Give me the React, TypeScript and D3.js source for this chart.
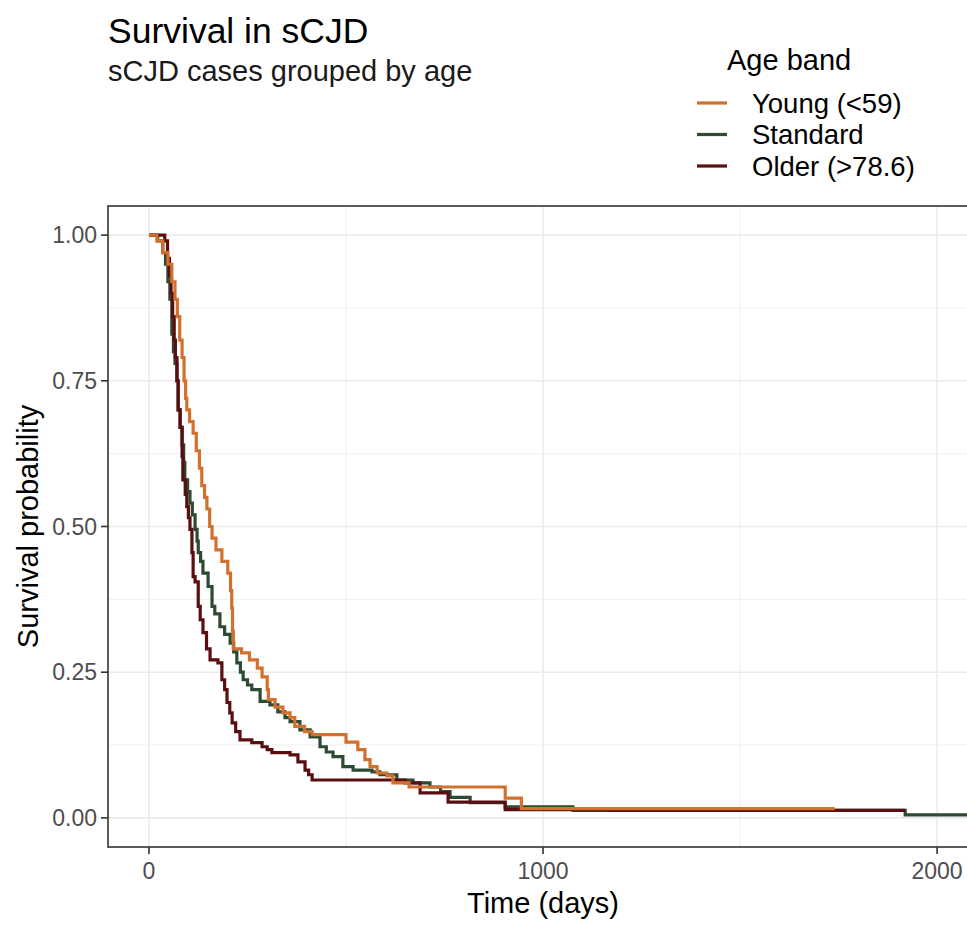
import * as d3 from "d3";

// Kaplan-Meier steps: [time in days, survival]
const young: [number, number][] = [
  [0, 1], [20, 0.99], [35, 0.97], [48, 0.95], [58, 0.92], [66, 0.89], [72, 0.86],
  [78, 0.82], [84, 0.79], [89, 0.75], [93, 0.72], [96, 0.7], [103, 0.68], [112, 0.66],
  [120, 0.63], [128, 0.6], [134, 0.57], [141, 0.55], [147, 0.53], [154, 0.5],
  [160, 0.48], [170, 0.46], [185, 0.44], [200, 0.42], [207, 0.39], [210, 0.36],
  [212, 0.32], [214, 0.29], [235, 0.283], [255, 0.271], [275, 0.257], [287, 0.242],
  [300, 0.22], [303, 0.203], [320, 0.19], [340, 0.18], [358, 0.172], [370, 0.157],
  [395, 0.148], [414, 0.143], [500, 0.13], [530, 0.117], [548, 0.1], [561, 0.088],
  [579, 0.077], [604, 0.072], [619, 0.06], [660, 0.053], [904, 0.034], [945, 0.016],
  [1740, 0.016],
];

const standard: [number, number][] = [
  [0, 1], [22, 0.99], [35, 0.97], [42, 0.95], [48, 0.92], [53, 0.89], [58, 0.83],
  [62, 0.8], [66, 0.78], [71, 0.75], [74, 0.7], [79, 0.67], [84, 0.64], [88, 0.61],
  [91, 0.58], [98, 0.56], [104, 0.54], [110, 0.52], [117, 0.495], [122, 0.475],
  [125, 0.455], [131, 0.44], [137, 0.42], [150, 0.397], [160, 0.363], [167, 0.35],
  [180, 0.328], [192, 0.315], [206, 0.3], [215, 0.285], [223, 0.266], [232, 0.25],
  [239, 0.237], [250, 0.228], [261, 0.22], [282, 0.2], [307, 0.194], [327, 0.182],
  [345, 0.172], [358, 0.165], [383, 0.151], [409, 0.139], [434, 0.122], [450, 0.113],
  [467, 0.105], [492, 0.088], [518, 0.082], [566, 0.079], [586, 0.074], [629, 0.065],
  [670, 0.06], [713, 0.053], [740, 0.045], [764, 0.035], [815, 0.026], [904, 0.019],
  [1076, 0.013], [1919, 0.005], [2100, 0.005],
];

const older: [number, number][] = [
  [0, 1], [40, 0.99], [47, 0.96], [52, 0.93], [56, 0.9], [60, 0.86], [64, 0.82],
  [67, 0.79], [71, 0.75], [74, 0.7], [79, 0.67], [84, 0.62], [86, 0.58], [92, 0.555],
  [96, 0.534], [100, 0.515], [104, 0.495], [109, 0.455], [112, 0.414], [117, 0.405],
  [125, 0.363], [130, 0.34], [137, 0.318], [146, 0.29], [155, 0.271], [175, 0.266],
  [185, 0.237], [192, 0.22], [198, 0.198], [205, 0.18], [211, 0.163], [220, 0.148],
  [231, 0.134], [261, 0.129], [287, 0.122], [300, 0.117], [312, 0.112], [358, 0.108],
  [378, 0.096], [396, 0.082], [405, 0.074], [414, 0.065], [650, 0.06], [688, 0.043],
  [759, 0.027], [904, 0.014], [1170, 0.013], [1919, 0.013],
];

const groups = ["Young (<59)", "Standard", "Older (>78.6)"];
const colors = ["#D2702E", "#2D4A32", "#5A0E10"];
const series = [young, standard, older];
const drawOrder = [1, 2, 0];

const xTicks = [0, 1000, 2000];
const xMinor = [500, 1500];
const yTicks = [0, 0.25, 0.5, 0.75, 1];
const yMinor = [0.125, 0.375, 0.625, 0.875];

const W = 967;
const H = 926;
const font = "'Liberation Sans', Arial, sans-serif";
const panel = { left: 108, top: 206, right: 1010, bottom: 847 };

export default function App() {
  const x = d3.scaleLinear().domain([-104, 2185]).range([panel.left, panel.right]);
  const y = d3.scaleLinear().domain([-0.05, 1.05]).range([panel.bottom, panel.top]);

  const line = d3
    .line<[number, number]>()
    .x((d) => x(d[0]))
    .y((d) => y(d[1]))
    .curve(d3.curveStepAfter);

  return (
    <svg
      width={W}
      height={H}
      viewBox={`0 0 ${W} ${H}`}
      style={{ position: "absolute", left: 0, top: 0, background: "#fff" }}
      fontFamily={font}
    >
      <defs>
        <clipPath id="panel">
          <rect x={panel.left} y={panel.top} width={panel.right - panel.left} height={panel.bottom - panel.top} />
        </clipPath>
      </defs>

      {/* Titles */}
      <text x={108} y={43} fontSize={35.5} fill="#000">Survival in sCJD</text>
      <text x={108} y={81} fontSize={29} fill="#1a1a1a">sCJD cases grouped by age</text>

      {/* Legend */}
      <text x={727} y={70} fontSize={29} fill="#000">Age band</text>
      {groups.map((g, i) => (
        <g key={g} transform={`translate(0, ${103 + i * 31.5})`}>
          <line x1={697} x2={727} y1={0} y2={0} stroke={colors[i]} strokeWidth={3.2} />
          <text x={752} y={0} dy="0.35em" fontSize={27.5} fill="#000">{g}</text>
        </g>
      ))}

      {/* Grid */}
      <g stroke="#EBEBEB">
        {xMinor.map((t) => (
          <line key={"xm" + t} x1={x(t)} x2={x(t)} y1={panel.top} y2={panel.bottom} strokeWidth={0.8} />
        ))}
        {yMinor.map((t) => (
          <line key={"ym" + t} x1={panel.left} x2={panel.right} y1={y(t)} y2={y(t)} strokeWidth={0.8} />
        ))}
        {xTicks.map((t) => (
          <line key={"xM" + t} x1={x(t)} x2={x(t)} y1={panel.top} y2={panel.bottom} strokeWidth={1.6} />
        ))}
        {yTicks.map((t) => (
          <line key={"yM" + t} x1={panel.left} x2={panel.right} y1={y(t)} y2={y(t)} strokeWidth={1.6} />
        ))}
      </g>

      {/* Survival curves */}
      <g clipPath="url(#panel)">
        {drawOrder.map((i) => (
          <path key={groups[i]} d={line(series[i]) ?? ""} fill="none" stroke={colors[i]} strokeWidth={3.2} />
        ))}
      </g>

      {/* Panel border */}
      <rect
        x={panel.left}
        y={panel.top}
        width={panel.right - panel.left}
        height={panel.bottom - panel.top}
        fill="none"
        stroke="#333"
        strokeWidth={1.6}
      />

      {/* Axes */}
      {yTicks.map((t) => (
        <g key={"yt" + t}>
          <line x1={panel.left - 7} x2={panel.left} y1={y(t)} y2={y(t)} stroke="#333" strokeWidth={1.6} />
          <text x={panel.left - 11} y={y(t)} dy="0.35em" textAnchor="end" fontSize={23} fill="#4D4D4D">
            {d3.format(".2f")(t)}
          </text>
        </g>
      ))}
      {xTicks.map((t) => (
        <g key={"xt" + t}>
          <line x1={x(t)} x2={x(t)} y1={panel.bottom} y2={panel.bottom + 7} stroke="#333" strokeWidth={1.6} />
          <text x={x(t)} y={879} textAnchor="middle" fontSize={23} fill="#4D4D4D">
            {t}
          </text>
        </g>
      ))}

      <text x={543} y={913} textAnchor="middle" fontSize={29} fill="#000">Time (days)</text>
      <text
        transform={`translate(38, ${(panel.top + panel.bottom) / 2}) rotate(-90)`}
        textAnchor="middle"
        fontSize={29}
        fill="#000"
      >
        Survival probability
      </text>
    </svg>
  );
}
